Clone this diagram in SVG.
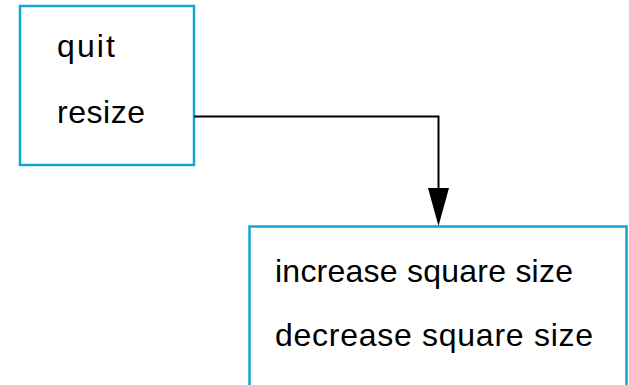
<svg xmlns="http://www.w3.org/2000/svg" width="629" height="385" viewBox="0 0 629 385">
<defs>
<style>
.box{fill:#fff;stroke:#14a4d4;stroke-width:2.5}
.t{font-family:"Liberation Sans",Arial,sans-serif;font-size:32px;fill:#000}
.c{fill:none;stroke:#000;stroke-width:2}
</style>
</defs>
<rect width="629" height="385" fill="#fff"/>
<g id="menu">
<rect class="box" x="20" y="6" width="174" height="159"/>
<text class="t" x="57" y="57" textLength="58" lengthAdjust="spacing">quit</text>
<text class="t" x="57" y="123" textLength="88" lengthAdjust="spacing">resize</text>
</g>
<g id="submenu">
<rect class="box" x="249.5" y="226.5" width="377" height="175"/>
<text class="t" x="275" y="282" textLength="298" lengthAdjust="spacing">increase square size</text>
<text class="t" x="275" y="346" textLength="318" lengthAdjust="spacing">decrease square size</text>
</g>
<g id="connectors">
<path class="c" d="M194,116.5 H438.5 V188"/>
<path d="M428,188 L449,188 L438.5,226 Z" fill="#000"/>
</g>
</svg>
